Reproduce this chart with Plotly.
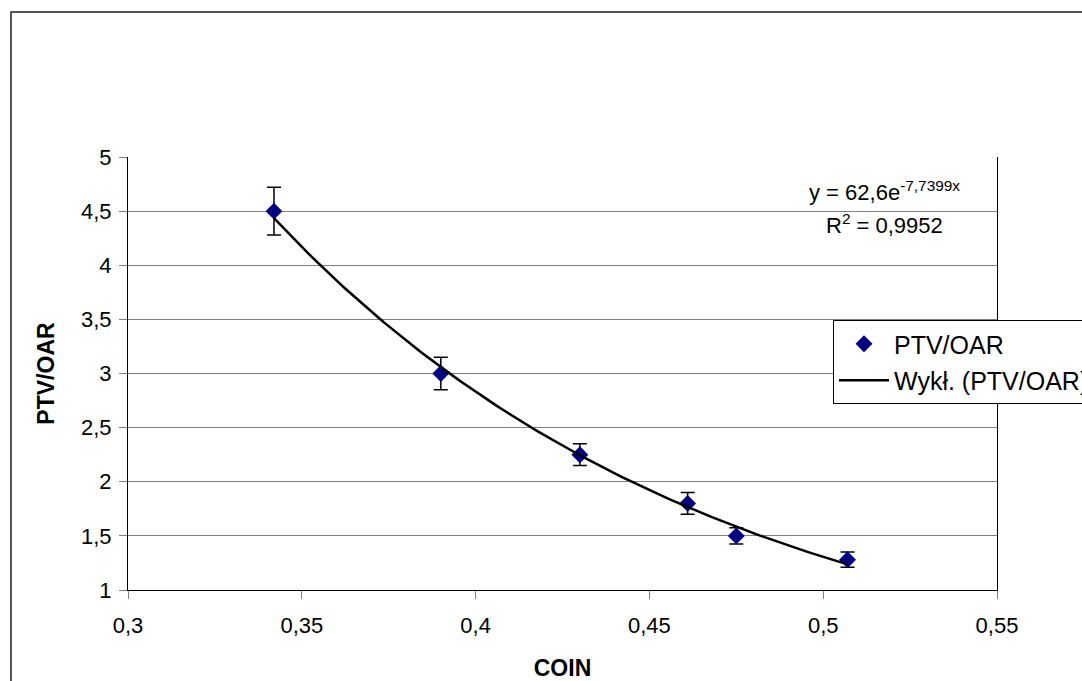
import numpy as np
import plotly.graph_objects as go

coin = [0.342, 0.390, 0.430, 0.461, 0.475, 0.507]
ptv_oar = [4.50, 3.00, 2.25, 1.80, 1.50, 1.28]
err = [0.22, 0.15, 0.10, 0.10, 0.075, 0.07]
fit_a = 62.6
fit_b = -7.7399
r2_label = "R<sup>2</sup> = 0,9952"
eq_label = "y = 62,6e<sup>-7,7399x</sup>"

xs = np.linspace(min(coin), max(coin), 120)
ys = fit_a * np.exp(fit_b * xs)

fig = go.Figure()
fig.add_trace(go.Scatter(
    x=coin, y=ptv_oar, mode="markers", name="PTV/OAR",
    marker=dict(symbol="diamond", size=13, color="#000080"),
    error_y=dict(type="data", array=err, visible=True, color="black", thickness=1.5, width=7),
    legendgroup="a",
))
fig.add_trace(go.Scatter(
    x=xs, y=ys, mode="lines", name="Wykł. (PTV/OAR)",
    line=dict(color="black", width=2.5),
    legendgroup="b",
))

fam = "Liberation Sans, Arial, sans-serif"
tick_font = dict(family=fam, size=22, color="black")
leg_font = dict(family=fam, size=25, color="black")
title_font = dict(family=fam, size=23, color="black")
eq_font = dict(family=fam, size=22, color="black")

fig.update_layout(
    width=1082, height=681,
    margin=dict(l=128, r=85, t=157, b=91, autoexpand=False),
    paper_bgcolor="white", plot_bgcolor="white",
    separators=", ",
    font=tick_font,
    showlegend=True,
    legend=dict(
        x=(833 - 128) / 869, y=(590 - 320) / 433, xanchor="left", yanchor="top",
        bordercolor="black", borderwidth=1, bgcolor="white",
        font=leg_font, tracegroupgap=1, itemwidth=50,
    ),
    xaxis=dict(
        range=[0.3, 0.55], dtick=0.05, tick0=0.3, showgrid=False,
        showline=True, linecolor="black", linewidth=1,
        ticks="outside", ticklen=8, tickcolor="#808080",
        ticklabelstandoff=8, zeroline=False, tickfont=tick_font,
        title=dict(text="<b>COIN</b>", font=title_font, standoff=22),
    ),
    yaxis=dict(
        range=[1, 5], dtick=0.5, tick0=1, showgrid=True, gridcolor="#808080", gridwidth=1,
        showline=True, linecolor="black", linewidth=1, mirror=True,
        ticks="outside", ticklen=8, tickcolor="#808080",
        ticklabelstandoff=3, zeroline=False, tickfont=tick_font,
        title=dict(text="<b>PTV/OAR</b>", font=title_font, standoff=19),
    ),
    annotations=[
        dict(text=eq_label, x=(884 - 128) / 869, y=(590 - 191) / 433, xref="paper", yref="paper",
             showarrow=False, font=eq_font, xanchor="center", yanchor="middle"),
        dict(text=r2_label, x=(884 - 128) / 869, y=(590 - 224) / 433, xref="paper", yref="paper",
             showarrow=False, font=eq_font, xanchor="center", yanchor="middle"),
    ],
    shapes=[
        dict(type="rect", xref="paper", yref="paper",
             x0=(11 - 128) / 869, x1=1.3, y0=-0.5, y1=(590 - 12) / 433,
             line=dict(color="#222222", width=1.5), fillcolor="rgba(0,0,0,0)", layer="below"),
    ],
)

fig.write_html("out.html")
